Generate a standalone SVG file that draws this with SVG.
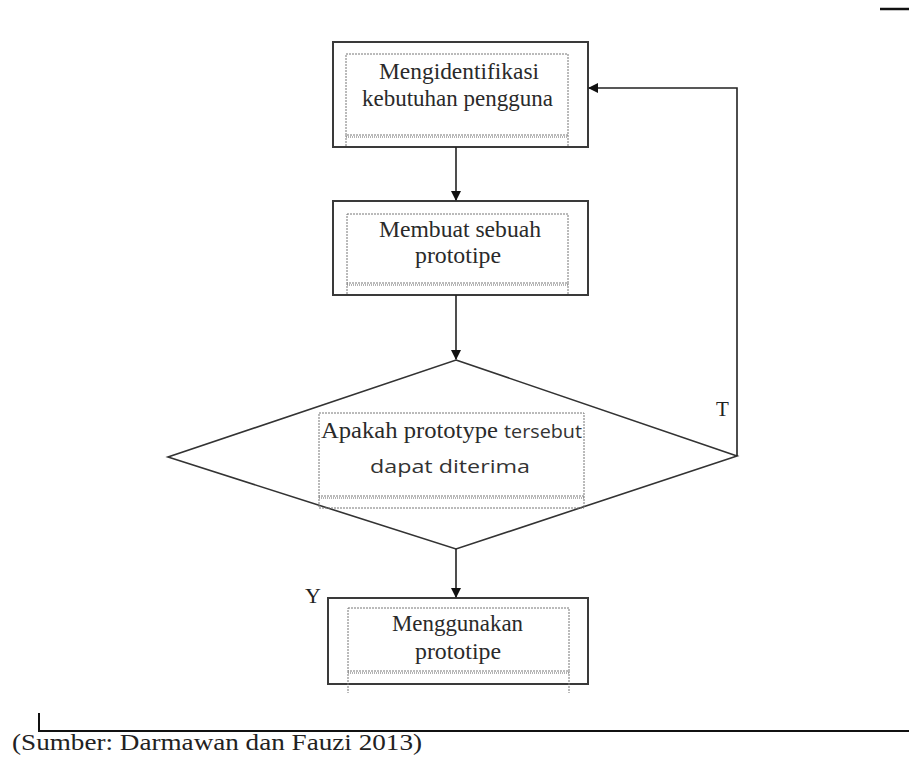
<svg xmlns="http://www.w3.org/2000/svg" width="909" height="758" viewBox="0 0 909 758">
<style>
  .box{fill:#fff;stroke:#3a3a3a;stroke-width:2}
  .inner{fill:none;stroke:#777;stroke-width:1;stroke-dasharray:2,1}
  .dbl{fill:none;stroke:#666;stroke-width:1;stroke-dasharray:1,1}
  .conn{fill:none;stroke:#222;stroke-width:1.6}
  .t{font-family:"Liberation Serif","Times New Roman",serif;font-size:24px;fill:#2a2a2a}
  .s{font-family:"Open Sans","Liberation Sans",sans-serif;font-size:19px;fill:#333}
  .lbl{font-family:"Liberation Serif","Times New Roman",serif;fill:#222}
</style>
<defs>
  <marker id="arr" markerWidth="10" markerHeight="10" refX="9" refY="5" orient="auto" markerUnits="userSpaceOnUse">
    <path d="M0,0 L10,5 L0,10 Z" fill="#111"/>
  </marker>
</defs>
<rect width="909" height="758" fill="#fff"/>
<line x1="880" y1="9" x2="909" y2="9" stroke="#111" stroke-width="2.5"/>

<g id="n1">
  <rect class="box" x="333" y="42" width="255" height="105"/>
  <rect class="inner" x="346" y="54" width="222" height="81"/>
  <line class="dbl" x1="346" y1="137" x2="568" y2="137"/>
  <line class="inner" x1="346" y1="135" x2="346" y2="147"/>
  <line class="inner" x1="568" y1="135" x2="568" y2="147"/>
  <text class="t" x="379" y="79" textLength="160" lengthAdjust="spacingAndGlyphs">Mengidentifikasi</text>
  <text class="t" x="362" y="106" textLength="191" lengthAdjust="spacingAndGlyphs">kebutuhan pengguna</text>
</g>

<g id="n2">
  <rect class="box" x="333" y="201" width="255" height="94"/>
  <rect class="inner" x="347" y="214" width="221" height="69"/>
  <line class="dbl" x1="347" y1="285" x2="568" y2="285"/>
  <line class="inner" x1="347" y1="283" x2="347" y2="295"/>
  <line class="inner" x1="568" y1="283" x2="568" y2="295"/>
  <text class="t" x="379" y="237" textLength="162" lengthAdjust="spacingAndGlyphs">Membuat sebuah</text>
  <text class="t" x="415" y="263" textLength="86" lengthAdjust="spacingAndGlyphs">prototipe</text>
</g>

<g id="n3">
  <polygon points="456,360 737,456 456,549 168,457" fill="#fff" stroke="#333" stroke-width="1.6"/>
  <rect class="inner" x="319" y="413" width="265" height="83"/>
  <line class="dbl" x1="319" y1="498" x2="584" y2="498"/>
  <line class="inner" x1="319" y1="496" x2="319" y2="508"/>
  <line class="inner" x1="584" y1="496" x2="584" y2="508"/>
  <line class="inner" x1="319" y1="508" x2="584" y2="508"/>
  <text class="t" x="321" y="438" font-size="20" textLength="177" lengthAdjust="spacingAndGlyphs">Apakah prototype</text>
  <text class="s" x="504" y="438" font-size="20" textLength="78" lengthAdjust="spacingAndGlyphs">tersebut</text>
  <text class="s" x="370" y="473" font-size="21" textLength="160" lengthAdjust="spacingAndGlyphs">dapat diterima</text>
</g>

<g id="n4">
  <rect class="box" x="328" y="598" width="260" height="86"/>
  <rect class="inner" x="348" y="608" width="221" height="63"/>
  <line class="dbl" x1="348" y1="673" x2="569" y2="673"/>
  <line class="inner" x1="348" y1="671" x2="348" y2="693"/>
  <line class="inner" x1="569" y1="671" x2="569" y2="693"/>
  <text class="t" x="392" y="631" textLength="131" lengthAdjust="spacingAndGlyphs">Menggunakan</text>
  <text class="t" x="415" y="659" textLength="86" lengthAdjust="spacingAndGlyphs">prototipe</text>
</g>

<g id="connectors">
  <line class="conn" x1="456" y1="147" x2="456" y2="200" marker-end="url(#arr)"/>
  <line class="conn" x1="456" y1="295" x2="456" y2="359" marker-end="url(#arr)"/>
  <line class="conn" x1="456" y1="549" x2="456" y2="597" marker-end="url(#arr)"/>
  <polyline class="conn" points="737,456 737,88 589,88" marker-end="url(#arr)"/>
  <text class="lbl" x="716" y="416" font-size="21">T</text>
  <text class="lbl" x="305" y="603" font-size="22">Y</text>
</g>

<g id="caption">
  <polyline points="39,713 39,731 909,731" fill="none" stroke="#111" stroke-width="2"/>
  <text class="lbl" x="12" y="750" font-size="23" textLength="410" lengthAdjust="spacingAndGlyphs">(Sumber: Darmawan dan Fauzi 2013)</text>
</g>
</svg>
